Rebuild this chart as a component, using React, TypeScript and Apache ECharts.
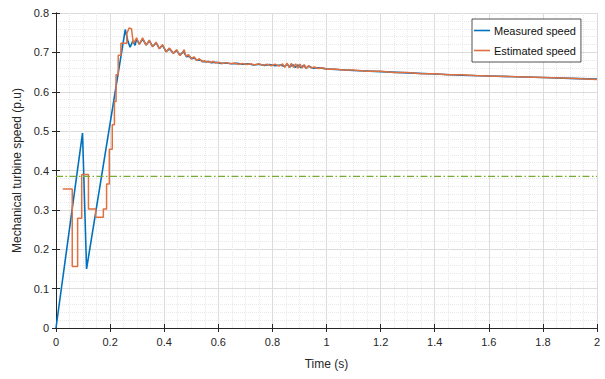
import React, { useEffect, useRef } from "react";
import * as echarts from "echarts";

// Time axis ticks (s) and speed axis ticks (p.u)
const timeTicks = [0, 0.2, 0.4, 0.6, 0.8, 1, 1.2, 1.4, 1.6, 1.8, 2];
const speedTicks = [0, 0.1, 0.2, 0.3, 0.4, 0.5, 0.6, 0.7, 0.8];

const seriesNames = ["Measured speed", "Estimated speed"];

// Measured turbine speed: [time s, speed p.u]
const measuredSpeed: [number, number][] = [
  [0, 0], [0.098, 0.495], [0.113, 0.15], [0.256, 0.758], [0.266, 0.728],
  [0.274, 0.713], [0.284, 0.729], [0.292, 0.718], [0.298, 0.734], [0.308, 0.721],
  [0.32, 0.734], [0.333, 0.719], [0.345, 0.729], [0.357, 0.715], [0.37, 0.724],
  [0.382, 0.71], [0.394, 0.718], [0.407, 0.702], [0.419, 0.709], [0.434, 0.698],
  [0.446, 0.705], [0.458, 0.693], [0.471, 0.702], [0.483, 0.689], [0.493, 0.69],
  [0.502, 0.684], [0.512, 0.686], [0.52, 0.68], [0.535, 0.68], [0.545, 0.676],
  [0.56, 0.677], [0.575, 0.674], [0.59, 0.675], [0.61, 0.672], [0.63, 0.673],
  [0.65, 0.671], [0.67, 0.672], [0.69, 0.67], [0.71, 0.671], [0.73, 0.668],
  [0.75, 0.67], [0.77, 0.667], [0.79, 0.669], [0.81, 0.666], [0.83, 0.668],
  [0.845, 0.664], [0.855, 0.67], [0.865, 0.663], [0.875, 0.669], [0.885, 0.662],
  [0.895, 0.668], [0.905, 0.661], [0.915, 0.667], [0.925, 0.66], [0.935, 0.665],
  [0.95, 0.66], [0.97, 0.661], [1.0, 0.658], [1.05, 0.656], [1.1, 0.654],
  [1.2, 0.651], [1.3, 0.648], [1.4, 0.645], [1.5, 0.642], [1.6, 0.64],
  [1.7, 0.638], [1.8, 0.636], [1.9, 0.634], [2.0, 0.632],
];

// Estimated turbine speed: [time s, speed p.u]
const estimatedSpeed: [number, number][] = [
  [0.025, 0.353], [0.06, 0.353], [0.06, 0.156], [0.08, 0.156], [0.08, 0.279],
  [0.095, 0.279], [0.095, 0.39], [0.12, 0.39], [0.12, 0.302], [0.147, 0.302],
  [0.147, 0.281], [0.175, 0.281], [0.175, 0.302], [0.187, 0.302], [0.187, 0.366],
  [0.197, 0.366], [0.197, 0.454], [0.208, 0.454], [0.208, 0.516], [0.216, 0.516],
  [0.216, 0.575], [0.222, 0.575], [0.222, 0.643], [0.23, 0.643], [0.23, 0.693],
  [0.24, 0.693], [0.24, 0.723], [0.262, 0.723], [0.262, 0.748], [0.27, 0.762],
  [0.279, 0.76], [0.286, 0.722], [0.298, 0.737], [0.308, 0.72], [0.32, 0.737],
  [0.333, 0.718], [0.345, 0.731], [0.357, 0.714], [0.37, 0.726], [0.382, 0.709],
  [0.394, 0.72], [0.407, 0.701], [0.419, 0.711], [0.434, 0.697], [0.446, 0.707],
  [0.458, 0.692], [0.468, 0.699], [0.474, 0.707], [0.48, 0.69], [0.49, 0.694],
  [0.5, 0.683], [0.51, 0.689], [0.52, 0.679], [0.53, 0.684], [0.54, 0.676],
  [0.548, 0.679], [0.556, 0.675], [0.564, 0.678], [0.572, 0.674], [0.58, 0.677],
  [0.59, 0.673], [0.6, 0.675], [0.615, 0.672], [0.63, 0.674], [0.645, 0.671],
  [0.66, 0.673], [0.675, 0.67], [0.69, 0.672], [0.705, 0.669], [0.72, 0.671],
  [0.735, 0.668], [0.75, 0.671], [0.765, 0.667], [0.78, 0.67], [0.795, 0.666],
  [0.81, 0.67], [0.825, 0.665], [0.838, 0.671], [0.846, 0.662], [0.854, 0.673],
  [0.862, 0.661], [0.87, 0.672], [0.878, 0.662], [0.886, 0.671], [0.894, 0.66],
  [0.902, 0.67], [0.91, 0.66], [0.918, 0.669], [0.926, 0.659], [0.934, 0.667],
  [0.942, 0.66], [0.955, 0.663], [0.97, 0.659], [0.985, 0.661], [1.0, 0.657],
  [1.03, 0.658], [1.06, 0.655], [1.1, 0.655], [1.15, 0.652], [1.2, 0.652],
  [1.25, 0.649], [1.3, 0.649], [1.35, 0.646], [1.4, 0.646], [1.45, 0.643],
  [1.5, 0.643], [1.55, 0.641], [1.6, 0.64], [1.7, 0.638], [1.8, 0.636],
  [1.9, 0.634], [2.0, 0.631],
];

// Reference speed level drawn as a dash-dot line
const referenceSpeed: [number, number][] = [
  [0, 0.385],
  [2, 0.385],
];

const FONT = "Liberation Sans, Arial, Helvetica, sans-serif";
const AXIS_COLOR = "#262626";
const BLUE = "#0072BD";
const ORANGE = "#E0703F";

const fmt = (v: number) => String(parseFloat(v.toFixed(2)));

export default function App() {
  const ref = useRef<HTMLDivElement>(null);

  useEffect(() => {
    if (!ref.current) return;
    const chart = echarts.init(ref.current, undefined, { renderer: "svg" });

    const tMin = timeTicks[0];
    const tMax = timeTicks[timeTicks.length - 1];
    const tStep = timeTicks[1] - timeTicks[0];
    const vMin = speedTicks[0];
    const vMax = speedTicks[speedTicks.length - 1];
    const vStep = speedTicks[1] - speedTicks[0];

    const baseX = {
      type: "value" as const,
      min: tMin,
      max: tMax,
      interval: tStep,
      axisLine: { show: true, lineStyle: { color: AXIS_COLOR, width: 1 } },
      axisTick: { show: true, inside: true, length: 4, lineStyle: { color: AXIS_COLOR } },
    };
    const baseY = {
      type: "value" as const,
      min: vMin,
      max: vMax,
      interval: vStep,
      axisLine: { show: true, lineStyle: { color: AXIS_COLOR, width: 1 } },
      axisTick: { show: true, inside: true, length: 4, lineStyle: { color: AXIS_COLOR } },
    };

    chart.setOption({
      animation: false,
      backgroundColor: "#ffffff",
      textStyle: { fontFamily: FONT },
      grid: { left: 56, right: 8, top: 13, bottom: 51, containLabel: false },
      legend: {
        data: [
          { name: seriesNames[0], icon: "rect", itemStyle: { color: BLUE } },
          { name: seriesNames[1], icon: "rect", itemStyle: { color: ORANGE } },
        ],
        orient: "vertical",
        left: 472,
        top: 19,
        itemWidth: 16,
        itemHeight: 1.6,
        itemGap: 9,
        padding: [6, 5, 6, 2],
        backgroundColor: "#ffffff",
        borderColor: AXIS_COLOR,
        borderWidth: 0.8,
        borderRadius: 0,
        textStyle: { fontSize: 11, color: "#111111", fontFamily: FONT, padding: [0, 0, 0, -1] },
      },
      xAxis: [
        {
          ...baseX,
          position: "bottom",
          name: "Time (s)",
          nameLocation: "middle",
          nameGap: 30,
          nameTextStyle: { fontSize: 12, color: AXIS_COLOR, fontFamily: FONT },
          axisLabel: {
            show: true,
            fontSize: 11,
            color: AXIS_COLOR,
            margin: 8,
            fontFamily: FONT,
            formatter: (v: number) => fmt(v),
          },
          splitLine: { show: true, lineStyle: { color: "#dcdcdc", width: 1 } },
          minorTick: { show: false, splitNumber: 4 },
          minorSplitLine: { show: true, lineStyle: { color: "#e8e8e8", width: 1, type: [1, 1] } },
        },
        {
          ...baseX,
          position: "top",
          axisLabel: { show: false },
          splitLine: { show: false },
        },
      ],
      yAxis: [
        {
          ...baseY,
          position: "left",
          name: "Mechanical turbine speed (p.u)",
          nameLocation: "middle",
          nameGap: 31,
          nameTextStyle: { fontSize: 12, color: AXIS_COLOR, fontFamily: FONT },
          axisLabel: {
            show: true,
            fontSize: 11,
            color: AXIS_COLOR,
            margin: 7,
            fontFamily: FONT,
            formatter: (v: number) => fmt(v),
          },
          splitLine: { show: true, lineStyle: { color: "#dcdcdc", width: 1 } },
          minorTick: { show: false, splitNumber: 5 },
          minorSplitLine: { show: true, lineStyle: { color: "#e8e8e8", width: 1, type: [1, 1] } },
        },
        {
          ...baseY,
          position: "right",
          axisLabel: { show: false },
          splitLine: { show: false },
        },
      ],
      series: [
        {
          name: seriesNames[0],
          type: "line",
          data: measuredSpeed,
          xAxisIndex: 0,
          yAxisIndex: 0,
          symbol: "none",
          showSymbol: false,
          color: BLUE,
          lineStyle: { color: BLUE, width: 1.6 },
          z: 3,
        },
        {
          name: seriesNames[1],
          type: "line",
          data: estimatedSpeed,
          xAxisIndex: 0,
          yAxisIndex: 0,
          symbol: "none",
          showSymbol: false,
          color: ORANGE,
          lineStyle: { color: ORANGE, width: 1.5 },
          z: 4,
        },
        {
          name: "reference",
          type: "line",
          data: referenceSpeed,
          xAxisIndex: 0,
          yAxisIndex: 0,
          symbol: "none",
          showSymbol: false,
          color: "#77AC30",
          lineStyle: { color: "#77AC30", width: 1.2, type: [7, 2.5, 1.5, 2.5] },
          z: 5,
        },
      ],
    });

    return () => chart.dispose();
  }, []);

  return (
    <div
      ref={ref}
      style={{ position: "fixed", left: 0, top: 0, width: 605, height: 379, background: "#fff" }}
    />
  );
}
